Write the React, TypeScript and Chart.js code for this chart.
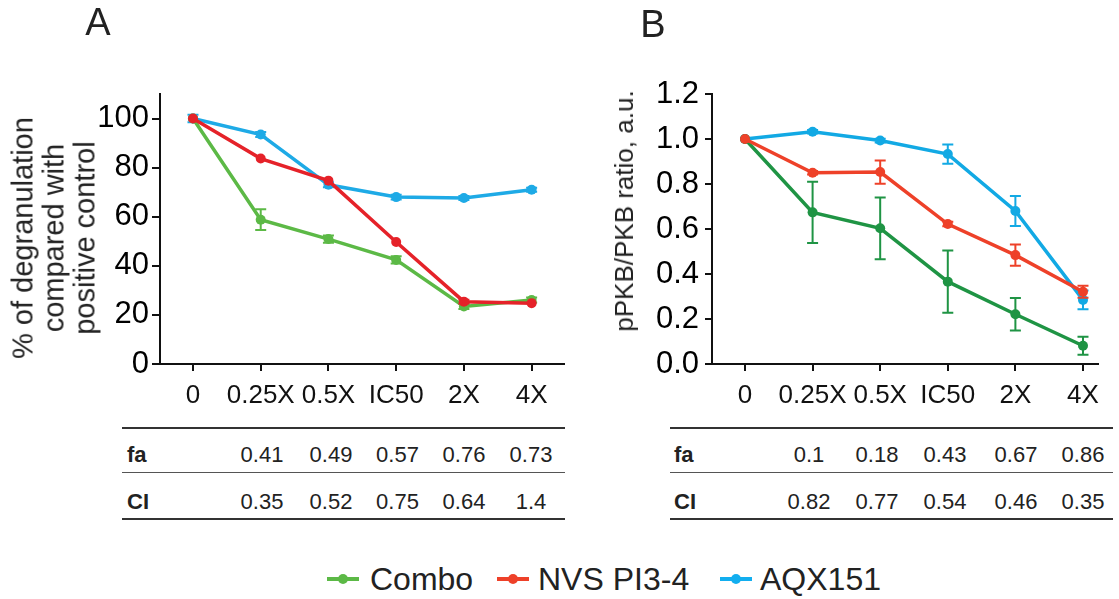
import React, { useEffect, useRef } from "react";
import { Chart, registerables } from "chart.js";

Chart.register(...registerables);

// ---------------- data ----------------
const categories = ["0", "0.25X", "0.5X", "IC50", "2X", "4X"];

// Panel A: % of degranulation
const degranCombo = [100, 58.8, 50.9, 42.4, 23.4, 26.1];
const degranComboErr = [0, 4.2, 1.5, 1.5, 1.0, 1.0];
const degranNVS = [100, 83.7, 74.7, 49.7, 25.4, 24.8];
const degranNVSErr = [0, 0, 0, 0, 0.8, 0];
const degranAQX = [100, 93.5, 73.0, 68.0, 67.6, 71.0];
const degranAQXErr = [1.5, 1.0, 1.0, 1.0, 0.8, 0.8];

// Panel B: pPKB/PKB ratio
const pkbCombo = [1.0, 0.674, 0.603, 0.366, 0.221, 0.081];
const pkbComboErr = [0, 0.136, 0.137, 0.138, 0.072, 0.04];
const pkbNVS = [1.0, 0.85, 0.853, 0.622, 0.484, 0.321];
const pkbNVSErr = [0, 0.008, 0.052, 0.01, 0.047, 0.027];
const pkbAQX = [1.0, 1.032, 0.993, 0.933, 0.68, 0.285];
const pkbAQXErr = [0, 0.008, 0.008, 0.043, 0.067, 0.042];

const yTicksA = [0, 20, 40, 60, 80, 100];
const yTicksB = [0, 0.2, 0.4, 0.6, 0.8, 1.0, 1.2];

const faA = ["0.41", "0.49", "0.57", "0.76", "0.73"];
const ciA = ["0.35", "0.52", "0.75", "0.64", "1.4"];
const faB = ["0.1", "0.18", "0.43", "0.67", "0.86"];
const ciB = ["0.82", "0.77", "0.54", "0.46", "0.35"];

const seriesNames = ["Combo", "NVS PI3-4", "AQX151"];

// ---------------- styles ----------------
const FONT = '"Liberation Sans", Arial, Helvetica, sans-serif';
const colorsA = { combo: "#5cb946", nvs: "#e52229", aqx: "#1eaae6" };
const colorsB = { combo: "#1f9444", nvs: "#ee4129", aqx: "#12a9e4" };
const legendColors = ["#5cb946", "#ee4129", "#12aeef"];
const AXIS = "#111";

const toXY = (arr: number[]) => arr.map((v, i) => ({ x: i, y: v }));

const errorBarPlugin = {
  id: "errorBars",
  afterDatasetDraw(chart: any, args: any) {
    const ds: any = chart.data.datasets[args.index];
    const errs: number[] | undefined = ds.errors;
    if (!errs) return;
    const ctx = chart.ctx;
    const xs = chart.scales.x;
    const ys = chart.scales.y;
    ctx.save();
    ctx.strokeStyle = ds.borderColor;
    ctx.lineWidth = 2;
    ds.data.forEach((p: any, i: number) => {
      const e = errs[i];
      if (!e) return;
      const x = xs.getPixelForValue(p.x);
      const y1 = ys.getPixelForValue(p.y + e);
      const y2 = ys.getPixelForValue(p.y - e);
      ctx.beginPath();
      ctx.moveTo(x, y1);
      ctx.lineTo(x, y2);
      ctx.moveTo(x - 5.5, y1);
      ctx.lineTo(x + 5.5, y1);
      ctx.moveTo(x - 5.5, y2);
      ctx.lineTo(x + 5.5, y2);
      ctx.stroke();
    });
    ctx.restore();
  },
};

function makeDataset(label: string, values: number[], errs: number[], color: string) {
  return {
    label,
    data: toXY(values),
    errors: errs,
    borderColor: color,
    backgroundColor: color,
    borderWidth: 3.5,
    pointRadius: 5,
    pointHoverRadius: 5,
    pointBorderWidth: 0,
    pointBackgroundColor: color,
    tension: 0,
    clip: false as any,
  };
}

function buildOptions(cfg: {
  xMin: number;
  xMax: number;
  yMax: number;
  yTicks: number[];
  yFmt: (v: number) => string;
  yWidth: number;
  padRight: number;
  yTickLen: number;
  yPad: number;
}) {
  return {
    responsive: false,
    animation: false as const,
    events: [] as any[],
    layout: { padding: { left: 0, right: cfg.padRight, top: 94, bottom: 0 } },
    plugins: { legend: { display: false }, tooltip: { enabled: false }, title: { display: false } },
    scales: {
      x: {
        type: "linear" as const,
        min: cfg.xMin,
        max: cfg.xMax,
        afterBuildTicks: (s: any) => {
          s.ticks = categories.map((_, i) => ({ value: i }));
        },
        afterFit: (s: any) => {
          s.height = 56;
        },
        ticks: {
          callback: (v: any) => categories[Number(v)] ?? "",
          font: { size: 26, family: FONT },
          color: "#111",
          padding: 9,
          autoSkip: false,
          maxRotation: 0,
          minRotation: 0,
        },
        grid: { drawOnChartArea: false, drawTicks: true, tickLength: 7, color: AXIS, lineWidth: 2 },
        border: { display: true, color: AXIS, width: 2 },
      },
      y: {
        type: "linear" as const,
        min: 0,
        max: cfg.yMax,
        afterBuildTicks: (s: any) => {
          s.ticks = cfg.yTicks.map((v) => ({ value: v }));
        },
        afterFit: (s: any) => {
          s.width = cfg.yWidth;
        },
        ticks: {
          callback: (v: any) => cfg.yFmt(Number(v)),
          font: { size: 31, family: FONT },
          color: "#000",
          padding: cfg.yPad,
        },
        grid: { drawOnChartArea: false, drawTicks: true, tickLength: cfg.yTickLen, color: AXIS, lineWidth: 2 },
        border: { display: true, color: AXIS, width: 2 },
      },
    },
  };
}

function PanelChart(props: {
  left: number;
  width: number;
  datasets: any[];
  options: any;
}) {
  const ref = useRef<HTMLCanvasElement | null>(null);
  useEffect(() => {
    if (!ref.current) return;
    const chart = new Chart(ref.current, {
      type: "line",
      data: { datasets: props.datasets },
      options: props.options,
      plugins: [errorBarPlugin],
    } as any);
    return () => chart.destroy();
  }, []);
  return (
    <canvas
      ref={ref}
      width={props.width}
      height={420}
      style={{ position: "absolute", left: props.left, top: 0, width: props.width, height: 420 }}
    />
  );
}

const abs = (left: number, top: number, extra: React.CSSProperties = {}): React.CSSProperties => ({
  position: "absolute",
  left,
  top,
  whiteSpace: "nowrap",
  lineHeight: 1,
  fontFamily: FONT,
  ...extra,
});

function Table(props: {
  x0: number;
  x1: number;
  labelX: number;
  cols: number[];
  fa: string[];
  ci: string[];
}) {
  const line = (y: number, c: string) => (
    <div style={{ position: "absolute", left: props.x0, top: y, width: props.x1 - props.x0, height: 1.6, background: c }} />
  );
  const rows: [string, string[], number][] = [
    ["fa", props.fa, 455],
    ["CI", props.ci, 502],
  ];
  return (
    <>
      {line(427, "#333")}
      {line(471.5, "#555")}
      {line(518, "#333")}
      {rows.map(([lab, vals, cy]) => (
        <React.Fragment key={lab}>
          <div style={abs(props.labelX, cy, { fontSize: 22, fontWeight: 700, color: "#222", transform: "translateY(-50%)" })}>
            {lab}
          </div>
          {vals.map((v, i) => (
            <div
              key={i}
              style={abs(props.cols[i], cy, { fontSize: 22, color: "#222", transform: "translate(-50%,-50%)" })}
            >
              {v}
            </div>
          ))}
        </React.Fragment>
      ))}
    </>
  );
}

export default function App() {
  const dsA = [
    makeDataset(seriesNames[1], degranNVS, degranNVSErr, colorsA.nvs),
    makeDataset(seriesNames[0], degranCombo, degranComboErr, colorsA.combo),
    makeDataset(seriesNames[2], degranAQX, degranAQXErr, colorsA.aqx),
  ];
  const dsB = [
    makeDataset(seriesNames[1], pkbNVS, pkbNVSErr, colorsB.nvs),
    makeDataset(seriesNames[0], pkbCombo, pkbComboErr, colorsB.combo),
    makeDataset(seriesNames[2], pkbAQX, pkbAQXErr, colorsB.aqx),
  ];
  const optA = buildOptions({
    xMin: -0.487,
    xMax: 5.478,
    yMax: 110,
    yTicks: yTicksA,
    yFmt: (v) => String(v),
    yWidth: 160,
    padRight: 16,
    yTickLen: 8,
    yPad: 3,
  });
  const optB = buildOptions({
    xMin: -0.488,
    xMax: 5.222,
    yMax: 1.2,
    yTicks: yTicksB,
    yFmt: (v) => v.toFixed(1),
    yWidth: 132,
    padRight: 21,
    yTickLen: 7,
    yPad: 6,
  });

  const legendPos = [
    { marker: 327, text: 370 },
    { marker: 497, text: 538 },
    { marker: 720, text: 760 },
  ];

  return (
    <div
      style={{
        position: "fixed",
        left: 0,
        top: 0,
        width: 1119,
        height: 599,
        background: "#fff",
        overflow: "hidden",
        fontFamily: FONT,
      }}
    >
      <PanelChart left={0} width={580} datasets={dsA} options={optA} />
      <PanelChart left={580} width={539} datasets={dsB} options={optB} />

      {/* panel letters */}
      <div style={abs(98, 22, { fontSize: 38, color: "#222", transform: "translate(-50%,-50%)" })}>A</div>
      <div style={abs(653, 24, { fontSize: 38, color: "#222", transform: "translate(-50%,-50%)" })}>B</div>

      {/* y titles */}
      <div
        style={{
          position: "absolute",
          left: 54,
          top: 238,
          transform: "translate(-50%,-50%) rotate(-90deg)",
          fontFamily: FONT,
          fontSize: 29,
          lineHeight: "31px",
          color: "#222",
          textAlign: "center",
          whiteSpace: "nowrap",
        }}
      >
        <div>% of degranulation</div>
        <div>compared with</div>
        <div>positive control</div>
      </div>
      <div
        style={{
          position: "absolute",
          left: 624,
          top: 211,
          transform: "translate(-50%,-50%) rotate(-90deg)",
          fontFamily: FONT,
          fontSize: 26,
          lineHeight: 1,
          color: "#222",
          whiteSpace: "nowrap",
        }}
      >
        pPKB/PKB ratio, a.u.
      </div>

      {/* tables */}
      <Table x0={122} x1={565} labelX={127} cols={[262, 331, 397.5, 464, 531]} fa={faA} ci={ciA} />
      <Table x0={670} x1={1113} labelX={674} cols={[809, 877, 945, 1016, 1083]} fa={faB} ci={ciB} />

      {/* legend */}
      {seriesNames.map((n, i) => (
        <React.Fragment key={n}>
          <div
            style={{
              position: "absolute",
              left: legendPos[i].marker,
              top: 577,
              width: 32,
              height: 4,
              background: legendColors[i],
            }}
          />
          <div
            style={{
              position: "absolute",
              left: legendPos[i].marker + 11,
              top: 574,
              width: 10,
              height: 10,
              borderRadius: 5,
              background: legendColors[i],
            }}
          />
          <div style={abs(legendPos[i].text, 579, { fontSize: 32, color: "#222", transform: "translateY(-50%)" })}>{n}</div>
        </React.Fragment>
      ))}
    </div>
  );
}
